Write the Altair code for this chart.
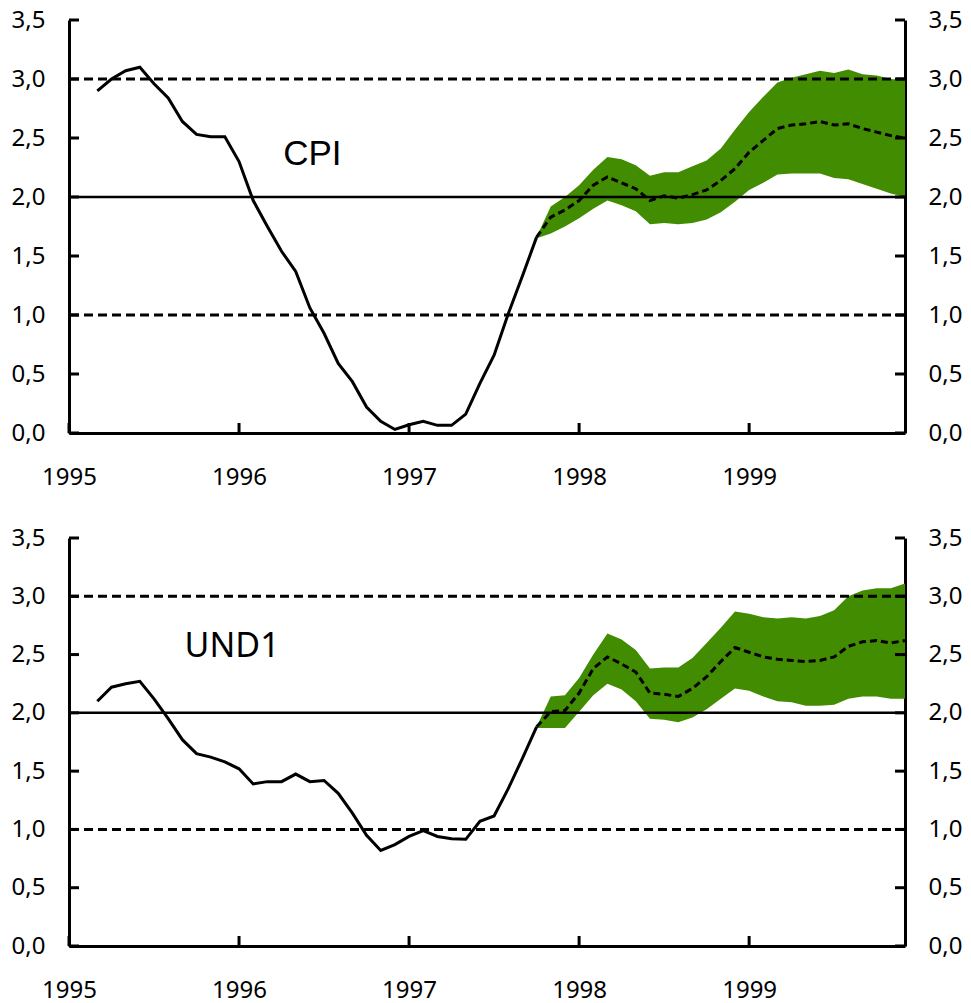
import altair as alt
import pandas as pd

# ---------------- data ----------------
months_actual = pd.period_range("1995-03", "1997-10", freq="M")
months_fc = pd.period_range("1997-10", "1999-12", freq="M")

cpi_actual = [2.90, 3.00, 3.07, 3.10, 2.96, 2.84, 2.64, 2.53, 2.51, 2.51,
              2.30, 1.97, 1.75, 1.54, 1.37, 1.06, 0.845, 0.59, 0.435, 0.22, 0.10, 0.03,
              0.07, 0.10, 0.065, 0.065, 0.16, 0.42, 0.66, 1.01, 1.33, 1.66]
cpi_fc_mid = [1.66, 1.83, 1.89, 1.97, 2.10, 2.17, 2.12, 2.07, 1.97, 2.01, 1.99, 2.02, 2.06,
              2.14, 2.24, 2.38, 2.48, 2.58, 2.61, 2.62, 2.64, 2.61, 2.62, 2.58, 2.55, 2.52, 2.50]
cpi_fc_hi = [1.66, 1.92, 2.00, 2.10, 2.23, 2.34, 2.32, 2.27, 2.18, 2.21, 2.21, 2.26, 2.31,
             2.41, 2.57, 2.72, 2.85, 2.97, 3.01, 3.04, 3.07, 3.05, 3.08, 3.04, 3.03, 3.00, 2.99]
cpi_fc_lo = [1.65, 1.69, 1.75, 1.82, 1.90, 1.97, 1.93, 1.88, 1.77, 1.78, 1.77, 1.78, 1.81,
             1.87, 1.96, 2.06, 2.12, 2.19, 2.20, 2.20, 2.20, 2.16, 2.15, 2.11, 2.07, 2.03, 2.00]

und1_actual = [2.10, 2.22, 2.25, 2.27, 2.12, 1.95, 1.77, 1.65, 1.62, 1.58,
               1.52, 1.39, 1.41, 1.41, 1.475, 1.41, 1.42, 1.31, 1.14, 0.95, 0.82, 0.87,
               0.94, 0.99, 0.94, 0.92, 0.915, 1.07, 1.115, 1.35, 1.61, 1.88]
und1_fc_mid = [1.88, 2.01, 2.02, 2.17, 2.38, 2.48, 2.42, 2.35, 2.17, 2.16, 2.14, 2.21, 2.31,
               2.44, 2.56, 2.52, 2.48, 2.46, 2.45, 2.44, 2.45, 2.48, 2.57, 2.61, 2.62, 2.60, 2.62]
und1_fc_hi = [1.88, 2.14, 2.15, 2.30, 2.50, 2.68, 2.63, 2.54, 2.38, 2.39, 2.39, 2.47, 2.60,
              2.73, 2.87, 2.85, 2.82, 2.81, 2.82, 2.81, 2.83, 2.88, 3.00, 3.05, 3.07, 3.07, 3.11]
und1_fc_lo = [1.87, 1.87, 1.87, 2.01, 2.15, 2.25, 2.20, 2.10, 1.95, 1.94, 1.92, 1.96, 2.03,
              2.12, 2.21, 2.19, 2.14, 2.10, 2.09, 2.06, 2.06, 2.07, 2.12, 2.14, 2.14, 2.12, 2.12]

y_ticks = [0.0, 0.5, 1.0, 1.5, 2.0, 2.5, 3.0, 3.5]
x_years = [1995, 1996, 1997, 1998, 1999]
ref_solid = [2.0]
ref_dashed = [1.0, 3.0]

# ---------------- styling ----------------
GREEN = "#418C00"
W = 836
TICK_FONT = "Noto Sans"
TICK_SIZE = 24
LABEL_EXPR = "replace(format(datum.value, '.1f'), '.', ',')"


def dec(p):
    return p.year + (p.month - 1) / 12


def panel(name, actual, mid, lo, hi, lx, ly, font, fsize, H):
    xsc = alt.Scale(domain=[1995, 1999 + 11 / 12], nice=False, zero=False)
    ysc = alt.Scale(domain=[0, 3.5], nice=False)
    xax = alt.Axis(values=x_years, format="d", ticks=False, tickSize=0, domainWidth=3,
                   domainColor="black", labelFont=TICK_FONT, labelFontSize=TICK_SIZE,
                   labelColor="black", labelPadding=32, labelFlush=False,
                   labelOverlap=False, grid=False, title=None)
    yax_l = alt.Axis(values=y_ticks, orient="left", labelExpr=LABEL_EXPR, ticks=False,
                     tickSize=0, domainWidth=3, domainColor="black", labelFont=TICK_FONT,
                     labelFontSize=TICK_SIZE, labelColor="black", labelPadding=24,
                     labelFlush=False, labelOverlap=False, grid=False, title=None)
    yax_r = alt.Axis(values=y_ticks, orient="right", labelExpr=LABEL_EXPR, ticks=False,
                     tickSize=0, domainWidth=3, domainColor="black", labelFont=TICK_FONT,
                     labelFontSize=TICK_SIZE, labelColor="black", labelPadding=23,
                     labelFlush=False, labelOverlap=False, grid=False, title=None)

    def X(f):
        return alt.X(f, type="quantitative", scale=xsc, axis=xax)

    def Y(f):
        return alt.Y(f, type="quantitative", scale=ysc, axis=yax_l)

    df_a = pd.DataFrame({"t": [dec(p) for p in months_actual], "v": actual})
    df_f = pd.DataFrame({"t": [dec(p) for p in months_fc], "mid": mid, "lo": lo, "hi": hi})
    df_yt = pd.DataFrame({"v": y_ticks})
    df_xt = pd.DataFrame({"t": x_years})

    band = alt.Chart(df_f).mark_area(color=GREEN, opacity=1).encode(
        x=X("t"), y=Y("lo"), y2=alt.Y2("hi"))
    r_dash = alt.Chart(pd.DataFrame({"v": ref_dashed})).mark_rule(
        color="black", strokeWidth=3, strokeDash=[9, 5]).encode(y=Y("v"))
    r_solid = alt.Chart(pd.DataFrame({"v": ref_solid})).mark_rule(
        color="black", strokeWidth=2.5).encode(y=Y("v"))
    l_act = alt.Chart(df_a).mark_line(color="black", strokeWidth=3).encode(
        x=X("t"), y=Y("v"))
    l_fc = alt.Chart(df_f).mark_line(color="black", strokeWidth=3, strokeDash=[7, 4]).encode(
        x=X("t"), y=Y("mid"))
    t_left = alt.Chart(df_yt).mark_rule(color="black", strokeWidth=3).encode(
        y=Y("v"), x=alt.value(0), x2=alt.value(10))
    t_bottom = alt.Chart(df_xt).mark_rule(color="black", strokeWidth=3).encode(
        x=X("t"), y=alt.value(H), y2=alt.value(H - 10))
    txt = alt.Chart(pd.DataFrame({"t": [lx], "v": [ly], "s": [name]})).mark_text(
        align="left", baseline="alphabetic", font=font, fontSize=fsize, color="black").encode(
        x=X("t"), y=Y("v"), text="s:N")

    inner = alt.layer(band, r_dash, r_solid, l_act, l_fc, t_left, t_bottom, txt)
    t_right = alt.Chart(df_yt).mark_rule(color="black", strokeWidth=3).encode(
        y=alt.Y("v", type="quantitative", scale=ysc, axis=yax_r),
        x=alt.value(W - 10), x2=alt.value(W))
    return alt.layer(inner, t_right).resolve_scale(y="independent").properties(
        width=W, height=H)


top = panel("CPI", cpi_actual, cpi_fc_mid, cpi_fc_lo, cpi_fc_hi,
            1996.26, 2.27, "Liberation Sans", 35, 413)
bottom = panel("UND1", und1_actual, und1_fc_mid, und1_fc_lo, und1_fc_hi,
               1995.68, 2.48, "Noto Sans", 34, 408)

chart = alt.vconcat(top, bottom, spacing=37).properties(
    padding={"left": 3, "top": 0, "right": 0, "bottom": 0}
).configure_view(stroke=None)

chart.save("out.html", embed_options={"renderer": "svg", "actions": False})
